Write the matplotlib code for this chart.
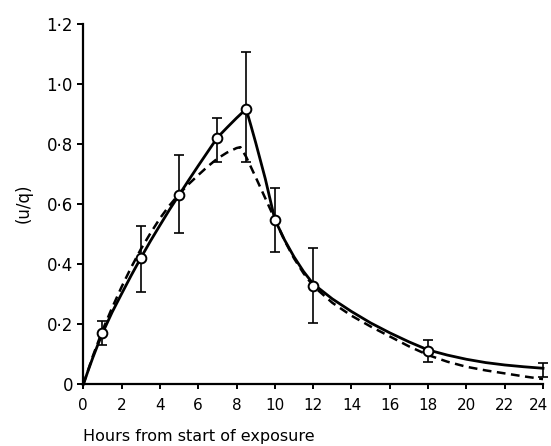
import matplotlib.pyplot as plt
import matplotlib.transforms as mtransforms
import numpy as np

# Observed (u/q) means with error-bar limits
obs_hours = [1, 3, 5, 7, 8.5, 10, 12, 18, 24]
obs_mean = [0.171, 0.421, 0.631, 0.822, 0.917, 0.549, 0.329, 0.113, 0.06]
obs_low = [0.13, 0.308, 0.504, 0.742, 0.742, 0.442, 0.206, 0.075, 0.025]
obs_high = [0.21, 0.529, 0.764, 0.888, 1.106, 0.653, 0.454, 0.147, 0.073]

# Fitted curve (solid)
fit_hours = [0, 0.25, 0.5, 0.75, 1, 1.5, 2, 2.5, 3, 3.5, 4, 4.5, 5, 5.5, 6,
             6.5, 7, 7.5, 8, 8.5, 8.75, 9, 9.25, 9.5, 9.75, 10, 10.5, 11,
             11.5, 12, 13, 14, 15, 16, 17, 18, 19, 20, 21, 22, 23, 24]
fit_vals = [0, 0.046, 0.09, 0.131, 0.171, 0.24, 0.302, 0.363, 0.421, 0.477,
            0.53, 0.582, 0.631, 0.68, 0.728, 0.775, 0.822, 0.855, 0.887, 0.917,
            0.862, 0.805, 0.745, 0.685, 0.617, 0.549, 0.482, 0.425, 0.376,
            0.335, 0.285, 0.243, 0.205, 0.172, 0.142, 0.115, 0.098, 0.084,
            0.073, 0.065, 0.059, 0.054]

# Second curve (dashed)
alt_hours = [0, 0.5, 1, 1.5, 2, 2.5, 3, 3.5, 4, 4.5, 5, 5.5, 6, 6.5, 7, 7.5,
             8, 8.2, 8.5, 9, 9.5, 10, 10.5, 11, 11.5, 12, 13, 14, 15, 16, 17,
             18, 19, 20, 21, 22, 23, 24]
alt_vals = [0, 0.095, 0.18, 0.255, 0.325, 0.39, 0.45, 0.503, 0.553, 0.596,
            0.634, 0.667, 0.697, 0.726, 0.752, 0.772, 0.787, 0.79, 0.758, 0.69,
            0.62, 0.55, 0.48, 0.42, 0.37, 0.328, 0.272, 0.229, 0.193, 0.16,
            0.127, 0.098, 0.076, 0.059, 0.047, 0.037, 0.027, 0.018]

xticks = list(range(0, 25, 2))
yticks = [0, 0.2, 0.4, 0.6, 0.8, 1.0, 1.2]
ytick_labels = ["0", "0·2", "0·4", "0·6", "0·8", "1·0", "1·2"]

fig = plt.figure(figsize=(5.51, 4.46), dpi=100)
ax = fig.add_axes([0.1512, 0.1379, 0.8343, 0.8083])

ax.plot(fit_hours, fit_vals, color="black", lw=2.0, solid_joinstyle="round",
        zorder=3, clip_on=False)
ax.plot(alt_hours, alt_vals, color="black", lw=1.8, dashes=(3.5, 2.2),
        zorder=3, clip_on=False)

mean = np.array(obs_mean)
yerr = [mean - np.array(obs_low), np.array(obs_high) - mean]
ax.errorbar(obs_hours, obs_mean, yerr=yerr, fmt="none", ecolor="black",
            elinewidth=1.2, capsize=3.6, capthick=1.2, zorder=4, clip_on=False)
ax.plot(obs_hours[:-1], obs_mean[:-1], "o", ms=7, mfc="white", mec="black",
        mew=1.4, zorder=5, clip_on=False)

ax.set_xlim(0, 24)
ax.set_ylim(0, 1.2)
ax.set_xticks(xticks)
ax.set_xticklabels([str(t) for t in xticks])
ax.set_yticks(yticks)
ax.set_yticklabels(ytick_labels)

for side in ["top", "right"]:
    ax.spines[side].set_visible(False)
for side in ["left", "bottom"]:
    ax.spines[side].set_linewidth(1.6)

ax.tick_params(axis="y", direction="out", length=4.5, width=1.4, pad=3,
               labelsize=12)
ax.tick_params(axis="x", direction="out", length=3.5, width=1.4, pad=6,
               labelsize=11)

# nudge the last hour label so it stays inside the figure
last = ax.xaxis.get_major_ticks()[-1].label1
last.set_transform(last.get_transform() +
                   mtransforms.ScaledTranslation(-3 / 72, 0, fig.dpi_scale_trans))

fig.text(0.151, 0.022, "Hours from start of exposure", fontsize=11.5,
         ha="left", va="center")
fig.text(0.042, 0.545, "(u/q)", fontsize=12, rotation=90,
         ha="center", va="center")

fig.savefig("out.png", dpi=100)
